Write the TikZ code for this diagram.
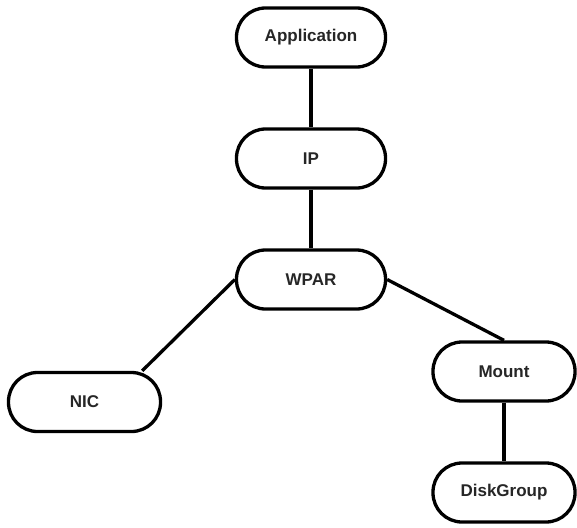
\documentclass[tikz,border=0pt]{standalone}
\usepackage{fontspec}
\setmainfont{Liberation Sans}
\usepackage{tikz}
\usetikzlibrary{positioning}

\begin{document}
\begin{tikzpicture}[x=1pt, y=1pt, node distance=121pt, line width=3.3pt,
  resource/.style={draw, rounded corners=29pt, minimum width=149pt, minimum height=59pt,
    text=black!85, font=\bfseries\fontsize{17}{20}\selectfont}]
  \useasboundingbox (0,0) rectangle (577,-527);

  \node [resource] (app) at (311,-37.5) {Application};
  \node [resource, below of=app] (ip) {IP};
  \node [resource, below of=ip] (wpar) {WPAR};
  \node [resource, minimum width=152pt] (nic) at (84.5,-402) {NIC};
  \node [resource, minimum width=142pt] (mount) at (504,-371.5) {Mount};
  \node [resource, minimum width=142pt, below of=mount] (disk) {DiskGroup};

  \path (app) edge (ip)
        (ip) edge (wpar)
        (wpar.east) edge (mount.north)
        (mount) edge (disk);
  \path (wpar.west) edge ([xshift=-20pt]nic.north east);
\end{tikzpicture}
\end{document}
